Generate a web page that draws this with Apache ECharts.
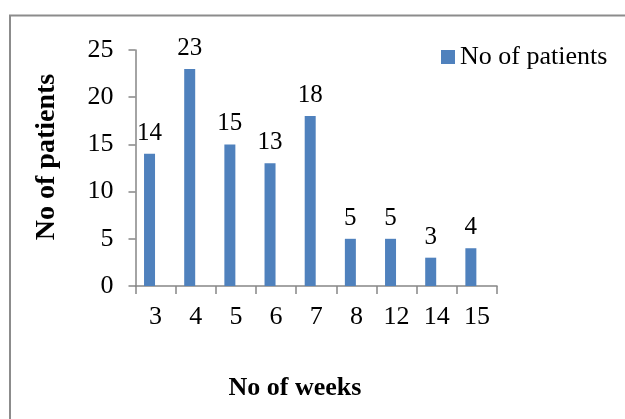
<!DOCTYPE html>
<html>
<head>
<meta charset="utf-8">
<script src="https://cdn.jsdelivr.net/npm/echarts@6/dist/echarts.min.js"></script>
<style>
  html, body { margin: 0; padding: 0; background: #fff; }
  #chart { width: 625px; height: 419px; }
</style>
</head>
<body>
<div id="chart"></div>
<script>
// Duration of treatment (weeks) and number of patients in each group
const weeks = ['3', '4', '5', '6', '7', '8', '12', '14', '15'];
const patients = [14, 23, 15, 13, 18, 5, 5, 3, 4];
// empty companion series: keeps each bar in the left half of its slot
const spacer = weeks.map(() => '-');
const yTicks = { min: 0, max: 25, interval: 5 };

const serif = '"Liberation Serif", "Times New Roman", serif';
const axisGray = '#868686';

const chart = echarts.init(document.getElementById('chart'), null, { renderer: 'canvas' });

chart.setOption({
  animation: false,
  backgroundColor: '#fff',
  grid: { left: 135.5, right: 128, top: 50, bottom: 133, containLabel: false },
  legend: {
    data: ['No of patients'],
    left: 441,
    top: 44,
    padding: 0,
    itemWidth: 14,
    itemHeight: 14,
    itemGap: 5,
    icon: 'rect',
    textStyle: { fontFamily: serif, fontSize: 26, color: '#000', padding: [0, 0, 0, 0] }
  },
  xAxis: {
    type: 'category',
    data: weeks,
    axisLine: { lineStyle: { color: axisGray, width: 1.5 } },
    axisTick: { show: true, length: 8, lineStyle: { color: axisGray, width: 1.5 } },
    axisLabel: { fontFamily: serif, fontSize: 26, color: '#000', margin: 18 }
  },
  yAxis: {
    type: 'value',
    min: yTicks.min,
    max: yTicks.max,
    interval: yTicks.interval,
    splitLine: { show: false },
    axisLine: { show: true, lineStyle: { color: axisGray, width: 1.5 } },
    axisTick: { show: true, length: 7, lineStyle: { color: axisGray, width: 1.5 } },
    axisLabel: { fontFamily: serif, fontSize: 26, color: '#000', margin: 22 }
  },
  series: [
    {
      name: 'No of patients',
      type: 'bar',
      data: patients,
      barWidth: 11,
      barGap: '10%',
      itemStyle: { color: '#4F81BD' },
      label: {
        show: true,
        position: 'top',
        distance: 8,
        fontFamily: serif,
        fontSize: 25,
        color: '#000'
      }
    },
    {
      name: 'spacer',
      type: 'bar',
      data: spacer,
      barWidth: 11,
      itemStyle: { color: 'transparent' }
    }
  ],
  graphic: [
    {
      type: 'rect',
      silent: true,
      shape: { x: 10, y: 15.5, width: 700, height: 500 },
      style: { fill: 'none', stroke: '#8c8c8c', lineWidth: 2 }
    },
    {
      type: 'text',
      silent: true,
      x: 47,
      y: 157,
      rotation: Math.PI / 2,
      style: {
        text: 'No of patients',
        font: 'bold 28px ' + serif,
        fill: '#000',
        align: 'center',
        verticalAlign: 'middle'
      }
    },
    {
      type: 'text',
      silent: true,
      x: 295,
      y: 388,
      style: {
        text: 'No of weeks',
        font: 'bold 26px ' + serif,
        fill: '#000',
        align: 'center',
        verticalAlign: 'middle'
      }
    }
  ]
});
</script>
</body>
</html>
